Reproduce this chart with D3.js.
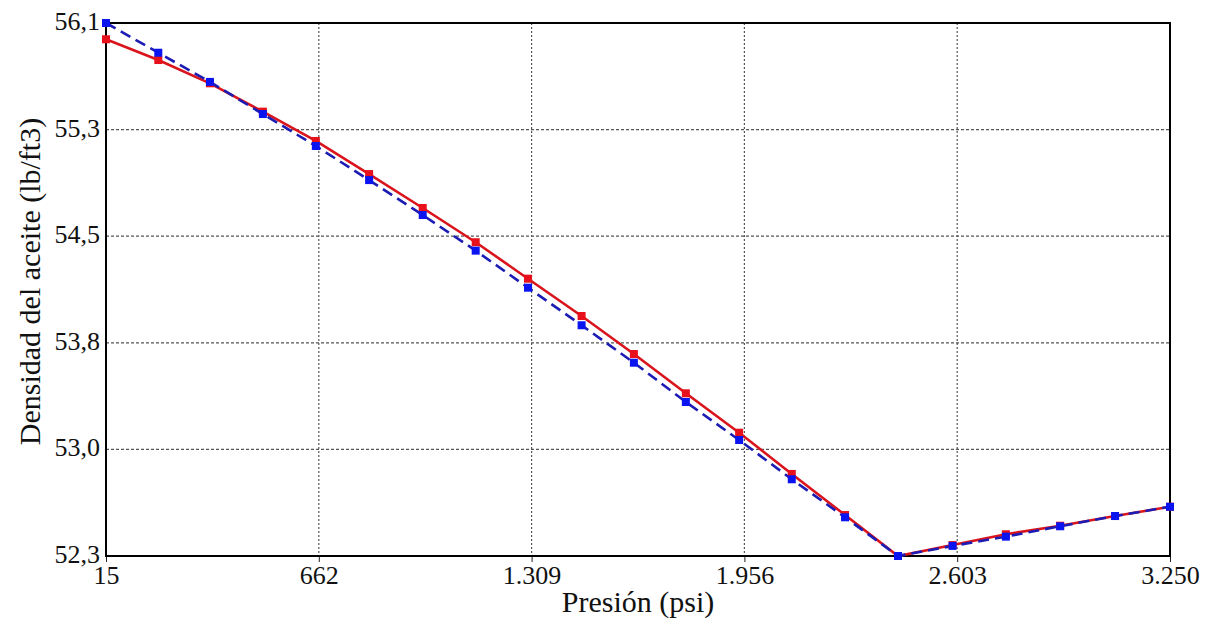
<!DOCTYPE html>
<html>
<head>
<meta charset="utf-8">
<script src="https://cdn.jsdelivr.net/npm/d3@7"></script>
<style>
  body { margin: 0; background: #fff; }
</style>
</head>
<body>
<div class="chart"></div>
<script>
// presión (psi)
const presion = [15, 174, 331, 492, 653, 815, 978, 1139, 1298, 1461, 1620,
    1778, 1940, 2100, 2262, 2423, 2589, 2751, 2916, 3083, 3250];
// densidad del aceite, serie roja (continua)
const densidadRoja = [55.984, 55.836, 55.67, 55.468, 55.259, 55.023, 54.781, 54.537,
    54.277, 54.011, 53.74, 53.46, 53.179, 52.885, 52.592, 52.3, 52.378, 52.455,
    52.516, 52.585, 52.651];
// densidad del aceite, serie azul (discontinua)
const densidadAzul = [56.1, 55.888, 55.68, 55.451, 55.223, 54.98, 54.731, 54.477,
    54.213, 53.945, 53.678, 53.398, 53.127, 52.847, 52.576, 52.3, 52.372, 52.438,
    52.512, 52.585, 52.651];

const xTicks = [15, 662, 1309, 1956, 2603, 3250];
const xTickLabels = ["15", "662", "1.309", "1.956", "2.603", "3.250"];
const yTicks = [52.3, 53.06, 53.82, 54.58, 55.34, 56.1];
const yTickLabels = ["52,3", "53,0", "53,8", "54,5", "55,3", "56,1"];

const serif = "'Liberation Serif', 'DejaVu Serif', serif";

const margin = ({top: 23, right: 41, bottom: 70, left: 106});
const W = 1211, H = 626;
const width = W - margin.left - margin.right,
    height = H - margin.top - margin.bottom;

const svg = d3.select(".chart").append("svg")
    .attr("width", W)
    .attr("height", H)
    .append("g")
    .attr("transform", "translate(" + margin.left + "," + margin.top + ")");

const x = d3.scaleLinear().domain([15, 3250]).range([0, width]);
const y = d3.scaleLinear().domain([52.3, 56.1]).range([height, 0]);

// grid
svg.append("g")
    .selectAll("line")
    .data(xTicks.slice(1, -1))
    .enter().append("line")
    .attr("x1", d => x(d)).attr("x2", d => x(d))
    .attr("y1", 0).attr("y2", height)
    .attr("stroke", "#555")
    .attr("stroke-width", 1.2)
    .attr("stroke-dasharray", "2,2");

svg.append("g")
    .selectAll("line")
    .data(yTicks.slice(1, -1))
    .enter().append("line")
    .attr("x1", 0).attr("x2", width)
    .attr("y1", d => y(d)).attr("y2", d => y(d))
    .attr("stroke", "#555")
    .attr("stroke-width", 1.2)
    .attr("stroke-dasharray", "3,2");

// axes
const xAxis = d3.axisBottom(x)
    .tickValues(xTicks)
    .tickSize(6)
    .tickFormat((d, i) => xTickLabels[i]);
const yAxis = d3.axisLeft(y)
    .tickValues(yTicks)
    .tickSize(0)
    .tickPadding(6)
    .tickFormat((d, i) => yTickLabels[i]);

const gx = svg.append("g")
    .attr("transform", "translate(0," + height + ")")
    .call(xAxis);
gx.select(".domain").remove();
gx.selectAll(".tick line").attr("stroke", "#222").attr("y1", 0).attr("y2", 6);
gx.selectAll(".tick text")
    .attr("y", 10)
    .attr("font-size", 26);

const gy = svg.append("g").call(yAxis);
gy.select(".domain").remove();
gy.selectAll(".tick text")
    .attr("dy", "0.25em")
    .attr("font-size", 26);

// frame
svg.append("rect")
    .attr("width", width)
    .attr("height", height)
    .attr("fill", "none")
    .attr("stroke", "#000")
    .attr("stroke-width", 2);

// titles
svg.append("text")
    .text("Presión (psi)")
    .attr("x", width / 2)
    .attr("y", height + 56)
    .attr("text-anchor", "middle")
    .attr("font-size", 30);

svg.append("text")
    .text("Densidad del aceite (lb/ft3)")
    .attr("transform", "translate(" + (-66) + "," + (height / 2 - 8) + ")rotate(-90)")
    .attr("text-anchor", "middle")
    .attr("font-size", 30);

svg.selectAll("text")
    .style("font-family", serif)
    .style("fill", "#111");

// series
const series = [
    {values: densidadRoja, line: "#d9141c", mark: "#e8101a", dash: null},
    {values: densidadAzul, line: "#1c1cb4", mark: "#0a14f0", dash: "11,6"}
];

const line = d3.line()
    .x((d, i) => x(presion[i]))
    .y(d => y(d));

series.forEach(s => {
    svg.append("path")
        .datum(s.values)
        .attr("fill", "none")
        .attr("stroke", s.line)
        .attr("stroke-width", 2.6)
        .attr("stroke-dasharray", s.dash)
        .attr("d", line);
});

series.forEach(s => {
    svg.append("g")
        .selectAll("rect")
        .data(s.values)
        .enter().append("rect")
        .attr("x", (d, i) => x(presion[i]) - 4)
        .attr("y", d => y(d) - 4)
        .attr("width", 8)
        .attr("height", 8)
        .attr("fill", s.mark);
});
</script>
</body>
</html>
